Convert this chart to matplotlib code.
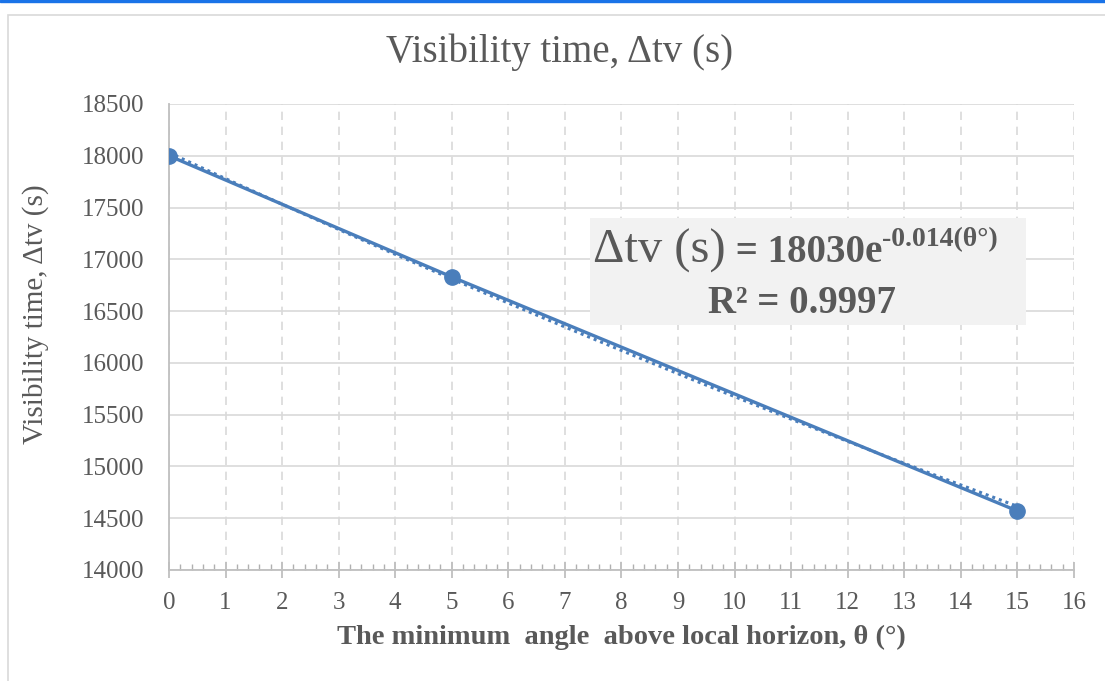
import numpy as np
import matplotlib
matplotlib.use("Agg")
import matplotlib.pyplot as plt
from matplotlib.patches import Rectangle

# data
angulo = [0, 5, 15]
tempo = [18000, 16830, 14570]
coef_a = 18030
coef_b = -0.014
r2 = 0.9997

azul = "#4a7ebb"
cinza_texto = "#595959"
cinza_grade = "#d9d9d9"

plt.rcParams["font.family"] = ["Liberation Serif", "DejaVu Serif"]

fig = plt.figure(figsize=(11.05, 6.81), dpi=100)
ax = fig.add_axes([0.1529, 0.163, 0.819, 0.6843])

# moldura do grafico
fig.patches.append(Rectangle((0, 0.997), 1, 0.003, transform=fig.transFigure,
                             color="#1a73e8", zorder=0))
fig.patches.append(Rectangle((8 / 1105, -0.1), 1.2, 1.1 - 15 / 681,
                             transform=fig.transFigure, fill=False,
                             edgecolor="#d9d9d9", lw=1.2, zorder=0))

# linha de tendencia exponencial (pontilhada)
xs = np.linspace(angulo[0], angulo[-1], 200)
ax.plot(xs, coef_a * np.exp(coef_b * xs), ls=(0, (1, 1.3)), color=azul, lw=2.2, zorder=3)
ax.plot(angulo, tempo, color=azul, lw=2.4, marker="o", markersize=11, zorder=4)

ax.set_xlim(0, 16)
ax.set_ylim(14000, 18500)
ax.set_xticks(range(0, 17))
ax.set_xticks(np.arange(0, 16.01, 0.2), minor=True)
ax.set_yticks(range(14000, 18501, 500))

ax.grid(axis="x", which="major", ls=(0, (5, 4)), color=cinza_grade, lw=1.2)
ax.grid(axis="y", which="major", ls="-", color=cinza_grade, lw=1.2)
ax.set_axisbelow(True)

for s in ["top", "right"]:
    ax.spines[s].set_visible(False)
for s in ["left", "bottom"]:
    ax.spines[s].set_color("#bfbfbf")
    ax.spines[s].set_linewidth(1.3)

ax.tick_params(axis="x", which="major", direction="inout", length=11, width=1.3,
               color="#bfbfbf", labelsize=18, labelcolor=cinza_texto, pad=10)
ax.tick_params(axis="x", which="minor", direction="in", length=4.5, width=1,
               color="#b0b0b0")
ax.tick_params(axis="y", length=0, labelsize=18, labelcolor=cinza_texto, pad=18)

fig.text(0.506, 1 - 52 / 681, "Visibility time, \u0394tv (s)", fontsize=28,
         color=cinza_texto, ha="center", va="center")
ax.set_xlabel("The minimum  angle  above local horizon, \u03b8 (\u00b0)", fontsize=20.5,
              fontweight="bold", color=cinza_texto)
ax.xaxis.set_label_coords(0.5, -0.144)
ax.xaxis.label.set_va("center")
ax.set_ylabel("Visibility time, \u0394tv (s)", fontsize=21, color=cinza_texto)
ax.yaxis.set_label_coords(-0.147, 0.55)
ax.yaxis.label.set_va("center")

# caixa da equacao
ax.add_patch(Rectangle((0.465, 0.526), 0.482, 0.229, transform=ax.transAxes,
                       facecolor="#f2f2f2", edgecolor="none", zorder=5))
y_base = 17000 - 30
t1 = ax.text(7.5, y_base, "\u0394tv (s)", fontsize=35, color=cinza_texto,
             va="baseline", zorder=6)
t2 = ax.annotate(" = %de" % coef_a, xy=(1, y_base), xycoords=(t1, "data"),
                 fontsize=28, fontweight="bold", color=cinza_texto, va="baseline", zorder=6)
ax.annotate("%.3f(\u03b8\u00b0)" % coef_b, xy=(1, y_base), xycoords=(t2, "data"),
            xytext=(0, 12), textcoords="offset points",
            fontsize=20, fontweight="bold", color=cinza_texto, va="baseline", zorder=6)
ax.text(0.70, 0.552, "R\u00b2 = %.4f" % r2, transform=ax.transAxes, fontsize=28,
        fontweight="bold", color=cinza_texto, ha="center", va="baseline", zorder=6)

fig.savefig("out.png", dpi=100)
